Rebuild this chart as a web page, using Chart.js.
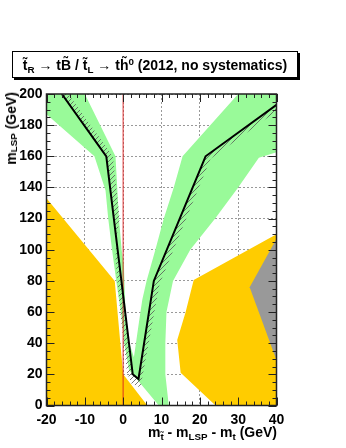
<!DOCTYPE html>
<html>
<head>
<meta charset="utf-8">
<script src="https://cdn.jsdelivr.net/npm/chart.js@4.4.1/dist/chart.umd.min.js"></script>
<style>
  body { margin: 0; background: #fff; }
  #wrap { position: relative; width: 346px; height: 448px; font-family: 'Liberation Sans', Arial, sans-serif; font-weight: bold; color: #000; }
  canvas { position: absolute; left: 0; top: 0; }
  sub { font-size: 0.7em; vertical-align: -0.3em; line-height: 0; }
  sup { font-size: 0.7em; vertical-align: 0.55em; line-height: 0; }
  .title { position: absolute; left: 12px; top: 51px; width: 284px; height: 25px; border: 1px solid #000; box-shadow: 2px 2px 0 #000; background: #fff; font-size: 14px; line-height: 27px; text-align: center; white-space: nowrap; }
  .ytitle { position: absolute; left: 3px; top: 92px; writing-mode: vertical-rl; transform: rotate(180deg); font-size: 14px; white-space: nowrap; }
  .xtitle { position: absolute; right: 69px; top: 424px; font-size: 14px; white-space: nowrap; }
</style>
</head>
<body>
<div id="wrap">
  <canvas id="limitChart" width="346" height="448"></canvas>
  <div class="title">t&#771;<sub>R</sub> &rarr; tB&#771; / t&#771;<sub>L</sub> &rarr; th&#771;<sup>0</sup> (2012, no systematics)</div>
  <div class="ytitle">m<sub>LSP</sub> (GeV)</div>
  <div class="xtitle">m<sub>t&#771;</sub> - m<sub>LSP</sub> - m<sub>t</sub> (GeV)</div>
</div>
<script>
// axis ranges
const xMin = -20, xMax = 40, xStep = 10, xMinor = 2;
const yMin = 0, yMax = 200, yStep = 20, yMinor = 5;

// observed limit (black line)
const limitX = [-16, -4.4, 2.5, 4, 8, 21.5, 40];
const limitY = [200, 160, 20, 17, 80, 160, 193];

// hatched side of the limit, walked back from the right end
const hatchEdgeX = [40, 22.8, 9.5, 4.5, 2.2, 1, -0.8, -2, -1.8, -0.9, -2.7, -14.3];
const hatchEdgeY = [189, 158.5, 78, 11.5, 14, 21, 60, 93.5, 107, 120, 160, 200];

// expected +-1 sigma band (outline)
const bandX = [-20, -20, -7.5, -4.6, -3.9, -2.9, -1.8, -0.6, 0.3, 1.5, 9.3, 11.9, 11, 11, 11.3, 13, 17.5, 24, 30, 35.4, 40,
  40, 30, 15.5, 13.2, 10.6, 8.4, 6.1, 5, 4.5, 2.8, 1.65, 0.6, 0.2, -0.4, -1.1, -2, -10];
const bandY = [200, 187, 160, 138, 120, 100, 80, 60, 40, 23, 0, 0, 20, 40, 60, 80, 100, 120, 140, 159, 162.6,
  200, 200, 160, 140, 120, 100, 80, 68, 60, 31, 40, 60, 90, 100, 120, 160, 200];

// regions
const orangeLeftX = [-20, -20, -2.2, 0, 6.3];
const orangeLeftY = [0, 133, 80, 20, 0];
const orangeRightX = [18.4, 40, 40, 24.1, 15, 14.1, 16.3];
const orangeRightY = [80.5, 110, 0, 0, 21, 42, 60];
const grayX = [40, 33, 40];
const grayY = [107, 76, 29];

// top-mass line
const redX = [0, 0];
const redY = [0, 200];

const pts = (xs, ys) => xs.map((x, i) => ({x: x, y: ys[i]}));

const ctx = document.getElementById('limitChart').getContext('2d');

// diagonal hatch
const tile = document.createElement('canvas');
tile.width = 5; tile.height = 5;
const t = tile.getContext('2d');
t.strokeStyle = '#555';
t.lineWidth = 0.8;
t.beginPath();
t.moveTo(0, 5); t.lineTo(5, 0);
t.moveTo(-1, 1); t.lineTo(1, -1);
t.moveTo(4, 6); t.lineTo(6, 4);
t.stroke();
const hatch = ctx.createPattern(tile, 'repeat');

function area(xs, ys, color, order) {
  return {
    data: pts(xs, ys), showLine: true, fill: 'shape', backgroundColor: color,
    borderWidth: 0, borderColor: 'rgba(0,0,0,0)', pointRadius: 0, order: order
  };
}

// ticks drawn inside the frame, ROOT style
const frameTicks = {
  id: 'frameTicks',
  afterDraw(chart) {
    const {ctx, chartArea: a, scales: {x, y}} = chart;
    ctx.save();
    ctx.strokeStyle = '#222';
    ctx.lineWidth = 1;
    ctx.beginPath();
    for (let v = xMin; v <= xMax; v += xMinor) {
      const px = Math.round(x.getPixelForValue(v)) + 0.5;
      const len = v % xStep === 0 ? 8 : 4;
      ctx.moveTo(px, a.bottom); ctx.lineTo(px, a.bottom - len);
      ctx.moveTo(px, a.top); ctx.lineTo(px, a.top + len);
    }
    for (let v = yMin; v <= yMax; v += yMinor) {
      const py = Math.round(y.getPixelForValue(v)) + 0.5;
      const len = v % yStep === 0 ? 8 : 4;
      ctx.moveTo(a.left, py); ctx.lineTo(a.left + len, py);
      ctx.moveTo(a.right, py); ctx.lineTo(a.right - len, py);
    }
    ctx.stroke();
    ctx.lineWidth = 1.5;
    ctx.strokeRect(a.left, a.top, a.right - a.left, a.bottom - a.top);
    ctx.restore();
  }
};

new Chart(ctx, {
  type: 'scatter',
  data: {
    datasets: [
      {data: pts(limitX, limitY), showLine: true, borderColor: '#000', borderWidth: 2, pointRadius: 0, order: 0},
      {data: pts(redX, redY), showLine: true, borderColor: 'rgba(220,30,30,0.6)', borderWidth: 1.5, pointRadius: 0, order: 1},
      area(limitX.concat(hatchEdgeX), limitY.concat(hatchEdgeY), hatch, 2),
      area(bandX, bandY, 'rgb(153,250,153)', 3),
      area(grayX, grayY, '#999999', 4),
      area(orangeRightX, orangeRightY, '#ffcc00', 5),
      area(orangeLeftX, orangeLeftY, '#ffcc00', 6)
    ]
  },
  options: {
    responsive: false,
    animation: false,
    layout: { padding: { top: 94, right: 69.5, left: 0, bottom: 0 } },
    plugins: { legend: { display: false }, tooltip: { enabled: false } },
    scales: {
      x: {
        type: 'linear', min: xMin, max: xMax, z: 1,
        afterFit: s => { s.height = 42.5; },
        ticks: { stepSize: xStep, color: '#000', padding: 6, font: { family: 'Liberation Sans', weight: 'bold', size: 14 } },
        grid: { color: '#999', lineWidth: 1, drawTicks: false },
        border: { display: false, dash: [2, 2] }
      },
      y: {
        type: 'linear', min: yMin, max: yMax, z: 1,
        afterFit: s => { s.width = 46.5; },
        ticks: { stepSize: yStep, color: '#000', padding: 4, font: { family: 'Liberation Sans', weight: 'bold', size: 14 } },
        grid: { color: '#999', lineWidth: 1, drawTicks: false },
        border: { display: false, dash: [2, 2] }
      }
    }
  },
  plugins: [frameTicks]
});
</script>
</body>
</html>
